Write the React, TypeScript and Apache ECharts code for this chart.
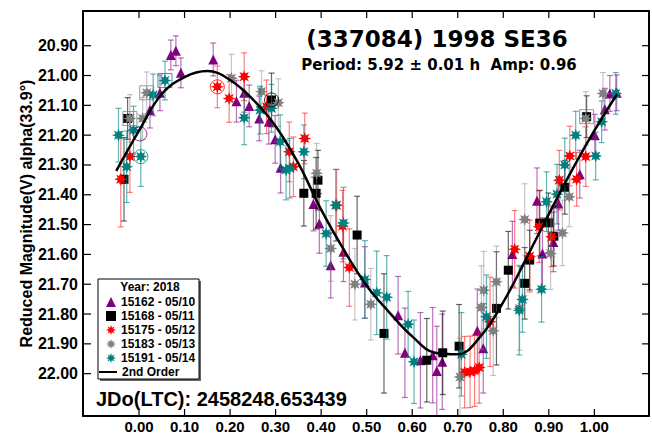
import React, { useEffect, useRef } from 'react';
import * as echarts from 'echarts';

// ---- axis ticks ----
const xTicks = [0, 0.1, 0.2, 0.3, 0.4, 0.5, 0.6, 0.7, 0.8, 0.9, 1.0];
const yTicks = [20.9, 21.0, 21.1, 21.2, 21.3, 21.4, 21.5, 21.6, 21.7, 21.8, 21.9, 22.0];

// ---- fitted 2nd order curve ----
const fitPhase = [-0.05, 0.0, 0.05, 0.1, 0.15, 0.2, 0.25, 0.3, 0.35, 0.4, 0.45, 0.5, 0.55, 0.6, 0.65, 0.7, 0.75, 0.8, 0.85, 0.9, 0.95, 1.0, 1.05];
const fitMag = [21.32, 21.185, 21.062, 21.005, 20.985, 21.015, 21.08, 21.17, 21.295, 21.45, 21.585, 21.705, 21.795, 21.875, 21.93, 21.935, 21.875, 21.76, 21.615, 21.465, 21.32, 21.185, 21.062];

// ---- observations: [phase, mag, error] ----
const s15162 = [
  [0.070, 20.931, 0.05], [0.081, 20.917, 0.05], [0.092, 20.991, 0.05], [0.163, 20.946, 0.055],
  [0.024, 21.116, 0.06], [0.046, 21.058, 0.06], [0.214, 21.086, 0.07], [0.231, 21.058, 0.065],
  [0.242, 21.102, 0.07], [0.264, 21.144, 0.075], [0.285, 21.155, 0.075], [0.299, 21.214, 0.08],
  [0.311, 21.309, 0.085], [0.383, 21.431, 0.09], [0.396, 21.496, 0.1], [0.421, 21.636, 0.11],
  [0.449, 21.591, 0.1], [0.496, 21.694, 0.12], [0.569, 21.804, 0.13], [0.584, 21.93, 0.15],
  [0.618, 21.955, 0.16], [0.645, 21.938, 0.16], [0.654, 21.991, 0.15], [0.666, 21.96, 0.16],
  [0.743, 21.856, 0.14], [0.756, 21.915, 0.15], [0.82, 21.599, 0.11], [0.874, 21.42, 0.11],
  [0.886, 21.597, 0.12], [0.91, 21.558, 0.1], [0.921, 21.429, 0.09], [0.968, 21.331, 0.08],
  [1.001, 21.2, 0.07], [1.023, 21.113, 0.07], [1.034, 21.06, 0.06], [1.049, 21.058, 0.06],
];
const s15168 = [
  [-0.025, 21.144, 0.07], [-0.033, 21.348, 0.14], [0.291, 21.082, 0.09], [0.362, 21.395, 0.11],
  [0.389, 21.395, 0.12], [0.393, 21.351, 0.1], [0.479, 21.535, 0.13], [0.538, 21.865, 0.2],
  [0.632, 21.955, 0.14], [0.667, 21.93, 0.14], [0.703, 21.908, 0.14], [0.785, 21.781, 0.19],
  [0.811, 21.653, 0.13], [0.847, 21.697, 0.12], [0.858, 21.619, 0.1], [0.88, 21.495, 0.11],
  [0.899, 21.494, 0.1], [0.911, 21.539, 0.1], [0.935, 21.375, 0.09], [0.983, 21.138, 0.07],
];
const s15175 = [
  [-0.04, 21.348, 0.16], [-0.02, 21.272, 0.12], [0.172, 21.038, 0.07], [0.198, 21.077, 0.08],
  [0.231, 21.004, 0.08], [0.28, 21.105, 0.09], [0.33, 21.256, 0.1], [0.339, 21.306, 0.1],
  [0.364, 21.211, 0.085], [0.434, 21.435, 0.12], [0.447, 21.505, 0.12], [0.462, 21.644, 0.13],
  [0.715, 21.995, 0.12], [0.727, 21.994, 0.12], [0.737, 21.99, 0.12], [0.747, 21.979, 0.12],
  [0.771, 21.826, 0.15], [0.825, 21.583, 0.13], [0.858, 21.606, 0.12], [0.879, 21.507, 0.12],
  [0.906, 21.541, 0.1], [0.923, 21.351, 0.1], [0.946, 21.27, 0.1], [0.961, 21.348, 0.09],
  [0.981, 21.272, 0.1],
];
const s15183 = [
  [-0.02, 21.144, 0.08], [0.008, 21.144, 0.07], [0.017, 21.058, 0.07], [0.203, 21.009, 0.08],
  [0.269, 21.054, 0.07], [0.306, 21.091, 0.08], [0.39, 21.328, 0.1], [0.421, 21.58, 0.11],
  [0.474, 21.7, 0.12], [0.509, 21.767, 0.12], [0.705, 22.011, 0.13], [0.752, 21.778, 0.14],
  [0.757, 21.72, 0.13], [0.778, 21.856, 0.15], [0.785, 21.692, 0.12], [0.836, 21.781, 0.14],
  [0.847, 21.483, 0.12], [0.904, 21.597, 0.12], [0.93, 21.528, 0.11], [0.945, 21.407, 0.1],
  [0.981, 21.144, 0.09], [1.019, 21.06, 0.07],
];
const s15191 = [
  [-0.045, 21.2, 0.09], [-0.027, 21.306, 0.12], [-0.012, 21.183, 0.08], [0.004, 21.272, 0.1],
  [0.031, 21.065, 0.07], [0.057, 21.017, 0.065], [0.231, 21.142, 0.09], [0.266, 21.116, 0.08],
  [0.291, 21.11, 0.08], [0.31, 21.222, 0.09], [0.323, 21.317, 0.1], [0.331, 21.311, 0.1],
  [0.362, 21.256, 0.09], [0.411, 21.53, 0.11], [0.432, 21.435, 0.12], [0.449, 21.495, 0.12],
  [0.496, 21.684, 0.13], [0.522, 21.729, 0.14], [0.544, 21.744, 0.14], [0.591, 21.834, 0.11],
  [0.604, 21.96, 0.14], [0.708, 21.935, 0.14], [0.763, 21.809, 0.14], [0.835, 21.787, 0.15],
  [0.842, 21.751, 0.11], [0.884, 21.717, 0.11], [0.895, 21.423, 0.1], [0.918, 21.398, 0.1],
  [0.935, 21.3, 0.09], [0.959, 21.2, 0.08], [1.003, 21.27, 0.08], [1.016, 21.155, 0.07],
  [1.047, 21.06, 0.07],
];

// flagged points: [phase, mag, seriesIndex]
const flagCircles = [[0.172, 21.038, 2], [0.004, 21.272, 4], [0.291, 21.082, 1], [0.002, 21.196, 0]];
const flagSquares = [[-0.02, 21.144, 3], [0.057, 21.017, 4], [0.983, 21.138, 3], [0.017, 21.058, 3]];

const seriesNames = ['15162 - 05/10', '15168 - 05/11', '15175 - 05/12', '15183 - 05/13', '15191 - 05/14'];
const fitName = '2nd Order';

// ---- styles ----
const starPath = (() => {
  let d = '';
  for (let i = 0; i < 16; i++) {
    const a = (i * Math.PI) / 8 - Math.PI / 2;
    const r = i % 2 === 0 ? 1 : 0.5;
    d += (i === 0 ? 'M' : 'L') + (r * Math.cos(a)).toFixed(3) + ' ' + (r * Math.sin(a)).toFixed(3) + ' ';
  }
  return 'path://' + d + 'Z';
})();

const colors = ['#800080', '#000000', '#ff0000', '#808080', '#008080'];
const barColors = ['rgba(128,0,128,0.55)', 'rgba(0,0,0,0.6)', 'rgba(255,0,0,0.5)', 'rgba(128,128,128,0.45)', 'rgba(0,128,128,0.6)'];
const symbols = ['triangle', 'rect', starPath, starPath, starPath];
const symbolSizes = [10, 9, 13, 13, 13];
const dataSets = [s15162, s15168, s15175, s15183, s15191];
const FONT = '"Liberation Sans", Arial, sans-serif';

const Y_MIN = 20.7836;
const Y_MAX = 22.142;
const X_MIN = -0.123;
const X_MAX = 1.12;
const TICK_LEN = 7;

function errRender(color: string) {
  return (params: any, api: any) => {
    const x = api.value(0);
    const y = api.value(1);
    const e = api.value(2);
    const top = api.coord([x, y - e]);
    const bot = api.coord([x, y + e]);
    const hw = 3;
    const style = { stroke: color, lineWidth: 1.2 };
    return {
      type: 'group',
      children: [
        { type: 'line', shape: { x1: top[0], y1: top[1], x2: bot[0], y2: bot[1] }, style },
        { type: 'line', shape: { x1: top[0] - hw, y1: top[1], x2: top[0] + hw, y2: top[1] }, style },
        { type: 'line', shape: { x1: bot[0] - hw, y1: bot[1], x2: bot[0] + hw, y2: bot[1] }, style },
      ],
    };
  };
}

// inside ticks on all four sides, placed through the axes' scales
function xTickRender(params: any, api: any) {
  const v = api.value(0);
  const b = api.coord([v, Y_MAX]);
  const t = api.coord([v, Y_MIN]);
  const style = { stroke: '#000', lineWidth: 1.2 };
  return {
    type: 'group',
    children: [
      { type: 'line', shape: { x1: b[0], y1: b[1], x2: b[0], y2: b[1] - TICK_LEN }, style },
      { type: 'line', shape: { x1: t[0], y1: t[1], x2: t[0], y2: t[1] + TICK_LEN }, style },
    ],
  };
}
function yTickRender(params: any, api: any) {
  const v = api.value(1);
  const l = api.coord([X_MIN, v]);
  const r = api.coord([X_MAX, v]);
  const style = { stroke: '#000', lineWidth: 1.2 };
  return {
    type: 'group',
    children: [
      { type: 'line', shape: { x1: l[0], y1: l[1], x2: l[0] + TICK_LEN + 1, y2: l[1] }, style },
      { type: 'line', shape: { x1: r[0], y1: r[1], x2: r[0] - TICK_LEN, y2: r[1] }, style },
    ],
  };
}

function buildOption(): any {
  const series: any[] = [];
  dataSets.forEach((ds, i) => {
    series.push({
      type: 'custom',
      name: seriesNames[i] + ' err',
      renderItem: errRender(barColors[i]),
      data: ds,
      encode: { x: 0, y: 1 },
      z: 2 + i * 2,
      silent: true,
    });
    series.push({
      type: 'scatter',
      name: seriesNames[i],
      data: ds.map((d) => [d[0], d[1]]),
      symbol: symbols[i],
      symbolSize: symbolSizes[i],
      itemStyle: { color: colors[i], opacity: 1 },
      z: 3 + i * 2,
    });
  });
  series.push({
    type: 'scatter',
    name: 'flagCircles',
    data: flagCircles.map((d) => ({
      value: [d[0], d[1]],
      itemStyle: { color: 'rgba(0,0,0,0)', borderColor: colors[d[2]], borderWidth: 1 },
    })),
    symbol: 'circle',
    symbolSize: 14,
    z: 20,
  });
  series.push({
    type: 'scatter',
    name: 'flagSquares',
    data: flagSquares.map((d) => ({
      value: [d[0], d[1]],
      itemStyle: { color: 'rgba(0,0,0,0)', borderColor: colors[d[2]], borderWidth: 1 },
    })),
    symbol: 'rect',
    symbolSize: 14,
    z: 20,
  });
  series.push({
    type: 'line',
    name: fitName,
    data: fitPhase.map((p, i) => [p, fitMag[i]]),
    smooth: 0.4,
    symbol: 'none',
    lineStyle: { color: '#000', width: 2.5 },
    itemStyle: { color: '#000' },
    z: 30,
  });
  series.push({
    type: 'custom',
    name: 'xTicks',
    renderItem: xTickRender,
    data: xTicks.map((v) => [v, Y_MIN]),
    encode: { x: 0, y: 1 },
    clip: false,
    silent: true,
    z: 45,
  });
  series.push({
    type: 'custom',
    name: 'yTicks',
    renderItem: yTickRender,
    data: yTicks.map((v) => [X_MIN, v]),
    encode: { x: 0, y: 1 },
    clip: false,
    silent: true,
    z: 45,
  });

  const labelStyle = { fontWeight: 'bold', color: '#000', fontFamily: FONT };
  const axisLine = { show: true, onZero: false, lineStyle: { color: '#000', width: 2 } };

  return {
    animation: false,
    backgroundColor: '#fff',
    grid: {
      left: 83, top: 11, right: 3, bottom: 18,
      show: false,
      containLabel: false, outerBoundsMode: 'none',
    },
    xAxis: [
      {
        type: 'value', position: 'bottom', min: X_MIN, max: X_MAX,
        axisLine,
        axisTick: { show: false },
        axisLabel: { show: true, customValues: xTicks, margin: 3, fontSize: 15, lineHeight: 14, formatter: (v: number) => v.toFixed(2), ...labelStyle },
        splitLine: { show: false },
        z: 40,
      },
      {
        type: 'value', position: 'top', min: X_MIN, max: X_MAX,
        axisLine,
        axisTick: { show: false },
        axisLabel: { show: false },
        splitLine: { show: false },
        z: 40,
      },
    ],
    yAxis: [
      {
        type: 'value', position: 'left', inverse: true, min: Y_MIN, max: Y_MAX,
        name: 'Reduced Magnitude(V) alpha(33.9°)',
        nameLocation: 'middle', nameRotate: 90, nameGap: 49, nameMoveOverlap: false,
        nameTextStyle: { fontSize: 16, fontWeight: 'bold', color: '#000', fontFamily: FONT },
        axisLine,
        axisTick: { show: false },
        axisLabel: { show: true, customValues: yTicks, margin: 5, fontSize: 16, formatter: (v: number) => v.toFixed(2), ...labelStyle },
        splitLine: { show: false },
        z: 40,
      },
      {
        type: 'value', position: 'right', inverse: true, min: Y_MIN, max: Y_MAX,
        axisLine,
        axisTick: { show: false },
        axisLabel: { show: false },
        splitLine: { show: false },
        z: 40,
      },
    ],
    legend: [
      {
        orient: 'vertical', left: 106, top: 295, padding: 0, itemGap: 0,
        itemWidth: 10, itemHeight: 10, selectedMode: false,
        data: seriesNames,
        textStyle: { fontSize: 12, fontWeight: 'bold', color: '#000', fontFamily: FONT, lineHeight: 14 },
        z: 10,
      },
      {
        orient: 'vertical', left: 99, top: 365, padding: 0, itemGap: 0,
        itemWidth: 18, itemHeight: 2, selectedMode: false,
        data: [{ name: fitName, icon: 'rect' }],
        textStyle: { fontSize: 12, fontWeight: 'bold', color: '#000', fontFamily: FONT, lineHeight: 14 },
        z: 10,
      },
    ],
    graphic: [
      { type: 'rect', z: 8, shape: { x: 100, y: 281, width: 101, height: 100 }, style: { fill: '#666' } },
      { type: 'rect', z: 9, shape: { x: 98, y: 279, width: 101, height: 100 }, style: { fill: '#fff', stroke: '#000', lineWidth: 1 } },
      { type: 'text', z: 10, x: 150, y: 287, style: { text: 'Year: 2018', fontSize: 12, fontWeight: 'bold', fill: '#000', fontFamily: FONT, align: 'center', verticalAlign: 'middle' } },
      { type: 'text', z: 10, x: 437, y: 39, style: { text: '(337084) 1998 SE36', fontSize: 23, fontWeight: 'bold', fill: '#000', fontFamily: '"DejaVu Sans", sans-serif', align: 'center', verticalAlign: 'middle' } },
      { type: 'text', z: 10, x: 439, y: 65, style: { text: 'Period: 5.92 ± 0.01 h  Amp: 0.96', fontSize: 15, fontWeight: 'bold', fill: '#000', fontFamily: '"DejaVu Sans", sans-serif', align: 'center', verticalAlign: 'middle' } },
      { type: 'text', z: 10, x: 96, y: 399, style: { text: 'JDo(LTC): 2458248.653439', fontSize: 20, fontWeight: 'bold', fill: '#000', fontFamily: FONT, align: 'left', verticalAlign: 'middle' } },
    ],
    series,
  };
}

export default function App() {
  const ref = useRef<HTMLDivElement>(null);
  useEffect(() => {
    if (!ref.current) return;
    const chart = echarts.init(ref.current, null, { renderer: 'svg' });
    chart.setOption(buildOption());
    return () => chart.dispose();
  }, []);
  return (
    <div
      ref={ref}
      style={{ position: 'fixed', left: 0, top: 0, width: 652, height: 434, background: '#fff' }}
    />
  );
}
